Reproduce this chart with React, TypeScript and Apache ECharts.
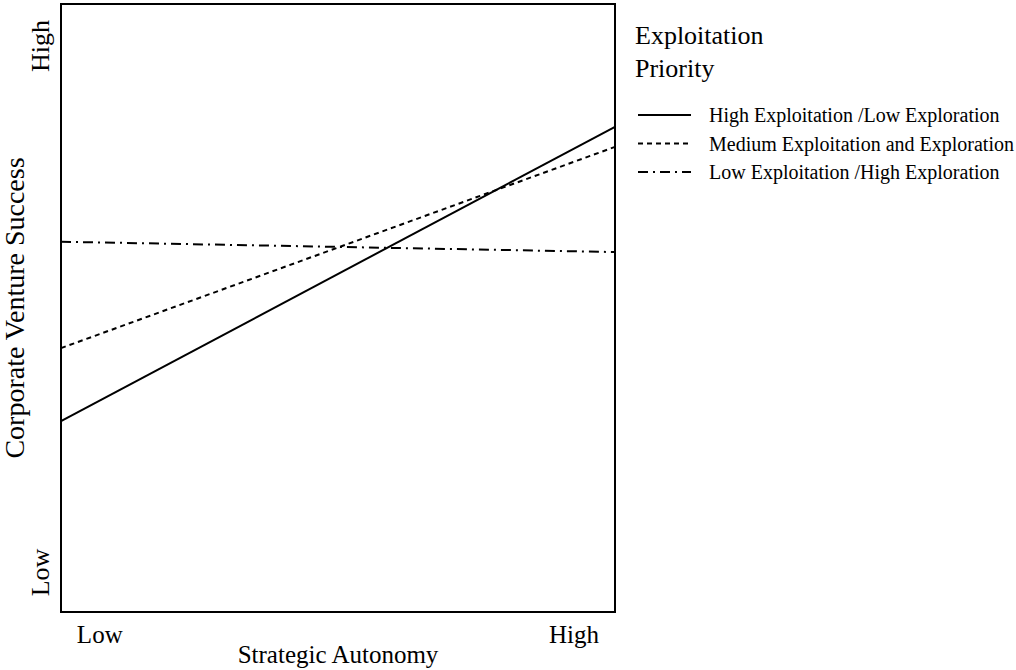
import React, { useEffect, useRef } from "react";
import * as echarts from "echarts";

const xValues = [0, 100];
const seriesNames = [
  "High Exploitation /Low Exploration",
  "Medium Exploitation and Exploration",
  "Low Exploitation /High Exploration",
];
const highExploitation = [31.4, 79.8];
const mediumExploitation = [43.4, 76.5];
const lowExploitation = [60.9, 59.2];
const xTickLabels = ["Low", "High"];
const xTickValues = [7, 92.6];
const yTickLabels = ["Low", "High"];
const yTickValues = [6.5, 93.1];

const FONT = '"Liberation Serif", "Times New Roman", serif';

export default function App() {
  const ref = useRef<HTMLDivElement>(null);
  useEffect(() => {
    if (!ref.current) return;
    const chart = echarts.init(ref.current, undefined, { renderer: "svg" });
    const pairs = (ys: number[]) => ys.map((y, i) => [xValues[i], y]);
    const lineTypes: any[] = ["solid", [5, 4], [10, 5, 2, 5]];
    const values = [highExploitation, mediumExploitation, lowExploitation];
    chart.setOption({
      animation: false,
      textStyle: { fontFamily: FONT, color: "#000" },
      title: {
        text: "Exploitation\nPriority",
        left: 635,
        top: 19,
        padding: 0,
        textStyle: {
          fontFamily: FONT,
          fontSize: 26,
          fontWeight: "normal",
          lineHeight: 33,
          color: "#000",
        },
      },
      legend: {
        orient: "vertical",
        left: 632,
        top: 100,
        itemWidth: 53,
        itemHeight: 14,
        itemGap: 8.5,
        data: seriesNames,
        itemStyle: { color: "transparent", borderColor: "transparent", opacity: 0 },
        lineStyle: { width: 2 },
        textStyle: {
          fontFamily: FONT,
          fontSize: 20,
          lineHeight: 20,
          color: "#000",
          padding: [0, 0, 0, 13],
        },
      },
      grid: {
        left: 61,
        top: 4,
        right: 401,
        bottom: 58,
        outerBoundsMode: "none",
        containLabel: false,
        show: true,
        borderColor: "#000",
        borderWidth: 2,
        backgroundColor: "transparent",
      },
      xAxis: {
        type: "value",
        min: 0,
        max: 100,
        name: "Strategic Autonomy",
        nameLocation: "middle",
        nameMoveOverlap: false,
        nameGap: 30,
        nameTextStyle: { fontFamily: FONT, fontSize: 25, color: "#000" },
        axisLine: { show: false },
        axisTick: { show: false },
        splitLine: { show: false },
        axisLabel: {
          customValues: xTickValues,
          formatter: (v: number) => {
            const i = xTickValues.findIndex((t) => Math.abs(t - v) < 1e-6);
            return i >= 0 ? xTickLabels[i] : "";
          },
          fontFamily: FONT,
          fontSize: 25,
          color: "#000",
          margin: 10,
        },
      },
      yAxis: {
        type: "value",
        min: 0,
        max: 100,
        name: "Corporate Venture Success",
        nameLocation: "middle",
        nameMoveOverlap: false,
        nameRotate: 90,
        nameGap: 35,
        nameTextStyle: { fontFamily: FONT, fontSize: 28, lineHeight: 24, color: "#000" },
        axisLine: { show: false },
        axisTick: { show: false },
        splitLine: { show: false },
        axisLabel: {
          customValues: yTickValues,
          rotate: 90,
          formatter: (v: number) => {
            const i = yTickValues.findIndex((t) => Math.abs(t - v) < 1e-6);
            return i >= 0 ? yTickLabels[i] : "";
          },
          fontFamily: FONT,
          fontSize: 26,
          color: "#000",
          margin: 8,
        },
      },
      series: seriesNames.map((name, i) => ({
        name,
        type: "line",
        data: pairs(values[i]),
        symbol: "none",
        showSymbol: false,
        lineStyle: { color: "#000", width: 2, type: lineTypes[i] },
        itemStyle: { color: "#000" },
      })),
    });
    return () => chart.dispose();
  }, []);
  return (
    <div
      ref={ref}
      style={{ position: "absolute", left: 0, top: 0, width: 1016, height: 670 }}
    />
  );
}
